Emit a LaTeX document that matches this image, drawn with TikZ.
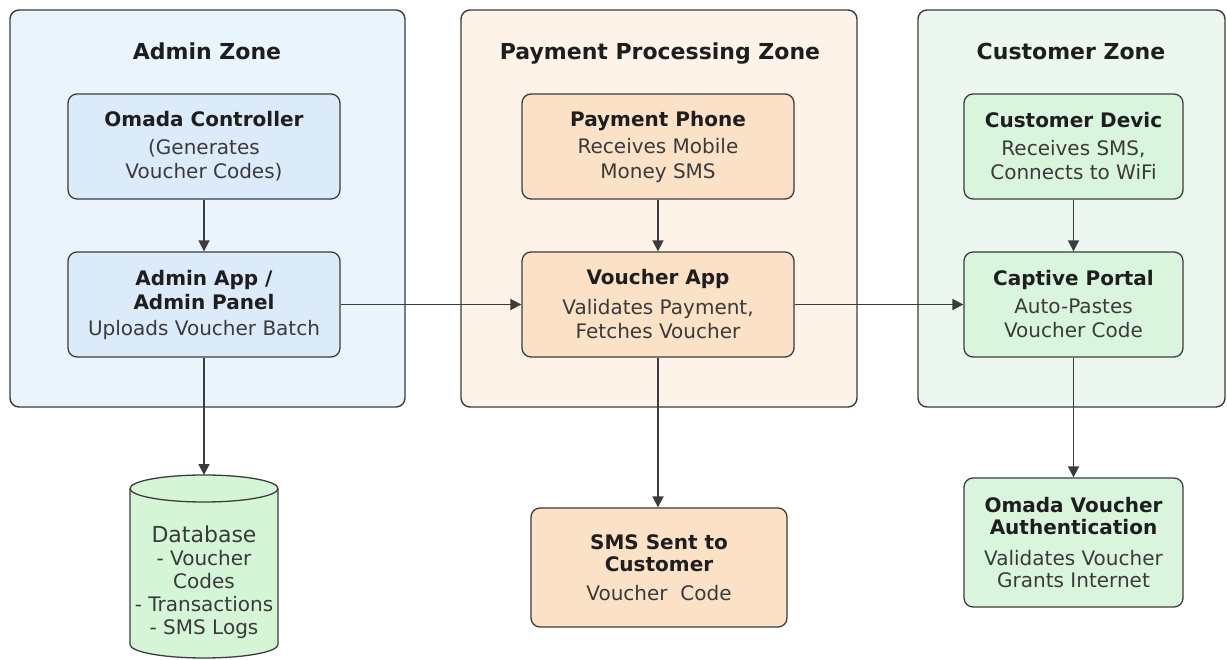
\documentclass[tikz,border=0pt]{standalone}
\usepackage{fontspec}
\setmainfont{DejaVu Sans}
\usetikzlibrary{arrows.meta}
\definecolor{zblue}{HTML}{EAF4FD}
\definecolor{nblue}{HTML}{DCEBFA}
\definecolor{zorange}{HTML}{FDF3E9}
\definecolor{norange}{HTML}{FBE1C6}
\definecolor{zgreen}{HTML}{ECF8EF}
\definecolor{ngreen}{HTML}{DAF5DE}
\definecolor{dbgreen}{HTML}{D4F5D6}
\definecolor{edge}{HTML}{3C3C3C}
\definecolor{ttl}{HTML}{1E1E1E}
\definecolor{bodyc}{HTML}{3A3A3A}
\tikzset{
  zone/.style={draw=edge, line width=1.4pt, rounded corners=9pt, inner sep=0pt, minimum width=#1},
  zonetitle/.style={font=\bfseries\fontsize{22}{26}\selectfont, text=ttl, anchor=base},
  box/.style={draw=edge, line width=1.3pt, rounded corners=9pt, align=center, inner sep=4pt,
     text=bodyc, font=\fontsize{20}{24.5}\selectfont},
  conn/.style={draw=edge, line width=1.7pt, -{Triangle[length=11pt,width=11pt]}},
}
\newcommand{\ttlt}[1]{\textcolor{ttl}{\bfseries #1}}
\begin{document}
\begin{tikzpicture}[x=1pt,y=-1pt]
\useasboundingbox (0,0) rectangle (1227,660);
% zones
\node[zone=395pt, minimum height=397pt, fill=zblue] (zA) at (207.5,208.5) {};
\node[zone=396pt, minimum height=397pt, fill=zorange] (zP) at (659,208.5) {};
\node[zone=307pt, minimum height=397pt, fill=zgreen] (zC) at (1071.5,208.5) {};
\node[zonetitle] (tA) at (207,60) {Admin Zone};
\node[zonetitle] (tP) at (660,60) {Payment Processing Zone};
\node[zonetitle] (tC) at (1071,60) {Customer Zone};
% admin nodes
\node[box, fill=nblue, minimum width=272pt, minimum height=105pt] (oc) at (204,146.5)
  {\ttlt{Omada Controller}\\[3pt] (Generates\\ Voucher Codes)};
\node[box, fill=nblue, minimum width=272pt, minimum height=105pt] (aa) at (204,304.5)
  {\ttlt{Admin App /}\\ \ttlt{Admin Panel}\\[1pt] Uploads Voucher Batch};
% payment nodes
\node[box, fill=norange, minimum width=272pt, minimum height=105pt] (pp) at (658,146.5)
  {\ttlt{Payment Phone}\\[3pt] Receives Mobile\\ Money SMS};
\node[box, fill=norange, minimum width=272pt, minimum height=105pt] (va) at (658,304.5)
  {\ttlt{Voucher App}\\[5pt] Validates Payment,\\ Fetches Voucher};
\node[box, fill=norange, minimum width=256pt, minimum height=119pt] (sms) at (659,567.5)
  {\ttlt{SMS Sent to}\\[-2pt] \ttlt{Customer}\\[4pt] Voucher~~Code};
% customer nodes
\node[box, fill=ngreen, minimum width=219pt, minimum height=105pt] (cd) at (1073.5,146.5)
  {\ttlt{Customer Devic}\\[3pt] Receives SMS,\\ Connects to WiFi};
\node[box, fill=ngreen, minimum width=219pt, minimum height=105pt] (cp) at (1073.5,304.5)
  {\ttlt{Captive Portal}\\[3pt] Auto-Pastes\\ Voucher Code};
\node[box, fill=ngreen, minimum width=219pt, minimum height=129pt, font=\fontsize{20}{22}\selectfont] (ova) at (1073.5,542.5)
  {\ttlt{Omada Voucher}\\ \ttlt{Authentication}\\[9pt] Validates Voucher\\ Grants Internet};
% database cylinder
\draw[edge, line width=1.3pt, fill=dbgreen] (130,488.5) -- (130,644.5) arc[start angle=180,end angle=0,x radius=74,y radius=13.5] -- (278,488.5);
\draw[edge, line width=1.3pt, fill=dbgreen] (204,488.5) ellipse [x radius=74, y radius=13.5];
\coordinate (dbtop) at (204,475);
\node[align=center, text=bodyc, font=\fontsize{20}{23}\selectfont] (db) at (204,582)
  {{\fontsize{22}{23}\selectfont Database}\\ - Voucher\\ Codes\\ - Transactions\\ - SMS Logs};
% connectors
\draw[conn] (oc.south) -- (aa.north);
\draw[conn] (aa.south) -- (dbtop);
\draw[conn] (aa.east) -- (va.west);
\draw[conn] (pp.south) -- (va.north);
\draw[conn] (va.south) -- (va.south |- sms.north);
\draw[conn] (va.east) -- (cp.west);
\draw[conn] (cd.south) -- (cp.north);
\draw[conn] (cp.south) -- (ova.north);
\end{tikzpicture}
\end{document}
